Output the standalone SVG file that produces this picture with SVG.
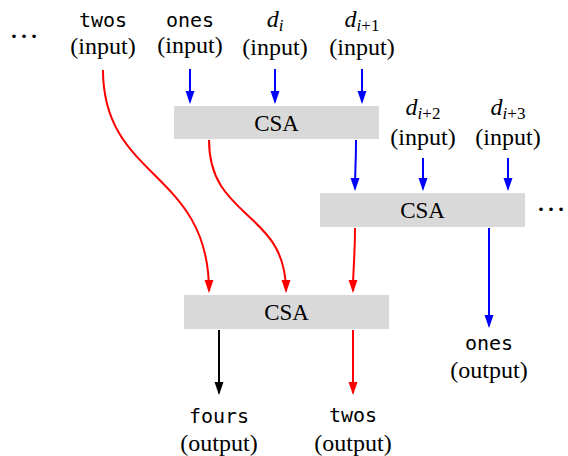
<svg xmlns="http://www.w3.org/2000/svg" width="568" height="456" viewBox="0 0 568 456">
<style>
.box{fill:#d9d9d9;stroke:none}
.lbl{font-family:"Liberation Serif","Times New Roman",serif;font-size:24px;fill:#000;text-anchor:middle}
.csa{font-size:23px}
.mono{font-family:"DejaVu Sans Mono","Liberation Mono",monospace;font-size:20px;fill:#000;text-anchor:middle}
.it{font-style:italic}
.sub{font-size:17px}
.b{stroke:#0000ff;stroke-width:2;fill:none}
.r{stroke:#ff0000;stroke-width:2;fill:none}
.k{stroke:#000;stroke-width:2;fill:none}
.dots{font-family:"Liberation Serif","Times New Roman",serif;font-size:30px;fill:#000}
</style>
<defs>
<marker id="ab" markerUnits="userSpaceOnUse" markerWidth="13" markerHeight="10" refX="11" refY="4.5" orient="auto"><path d="M0,0 L13,4.5 L0,9 z" fill="#0000ff"/></marker>
<marker id="ar" markerUnits="userSpaceOnUse" markerWidth="13" markerHeight="10" refX="11" refY="4.5" orient="auto"><path d="M0,0 L13,4.5 L0,9 z" fill="#ff0000"/></marker>
<marker id="ak" markerUnits="userSpaceOnUse" markerWidth="13" markerHeight="10" refX="11" refY="4.5" orient="auto"><path d="M0,0 L13,4.5 L0,9 z" fill="#000"/></marker>
</defs>
<g id="connectors">
<path class="b" marker-end="url(#ab)" d="M190,69 L190,102"/>
<path class="b" marker-end="url(#ab)" d="M275,69 L275,102"/>
<path class="b" marker-end="url(#ab)" d="M362,69 L362,102"/>
<path class="b" marker-end="url(#ab)" d="M423,158 L423,189"/>
<path class="b" marker-end="url(#ab)" d="M508,158 L508,189"/>
<path class="b" marker-end="url(#ab)" d="M356,140 C356,165 355,170 355,189"/>
<path class="b" marker-end="url(#ab)" d="M489,228 L489,326"/>
<path class="r" marker-end="url(#ar)" d="M103,70 C103,180 209,170 209,291"/>
<path class="r" marker-end="url(#ar)" d="M209,140 C209,220 286,210 286,291"/>
<path class="r" marker-end="url(#ar)" d="M355,228 C355,260 353,265 353,291"/>
<path class="r" marker-end="url(#ar)" d="M353,330 L353,393"/>
<path class="k" marker-end="url(#ak)" d="M219,330 L219,393"/>
</g>
<g id="csa1"><rect class="box" x="174" y="106" width="205" height="33"/><text class="lbl csa" x="276.5" y="131">CSA</text></g>
<g id="csa2"><rect class="box" x="320" y="193" width="205" height="34"/><text class="lbl csa" x="422.5" y="218">CSA</text></g>
<g id="csa3"><rect class="box" x="184" y="295" width="205" height="34"/><text class="lbl csa" x="286.5" y="320">CSA</text></g>
<g id="in-twos"><text class="mono" x="103" y="27">twos</text><text class="lbl" x="103" y="54">(input)</text></g>
<g id="in-ones"><text class="mono" x="190" y="27">ones</text><text class="lbl" x="190" y="53">(input)</text></g>
<g id="in-di"><text class="lbl" x="275" y="27"><tspan class="it">d</tspan><tspan class="sub it" dy="4">i</tspan></text><text class="lbl" x="275" y="55">(input)</text></g>
<g id="in-di1"><text class="lbl" x="362" y="27"><tspan class="it">d</tspan><tspan class="sub" dy="4"><tspan class="it">i</tspan>+1</tspan></text><text class="lbl" x="362" y="55">(input)</text></g>
<g id="in-di2"><text class="lbl" x="423" y="115"><tspan class="it">d</tspan><tspan class="sub" dy="4"><tspan class="it">i</tspan>+2</tspan></text><text class="lbl" x="423" y="145">(input)</text></g>
<g id="in-di3"><text class="lbl" x="508" y="115"><tspan class="it">d</tspan><tspan class="sub" dy="4"><tspan class="it">i</tspan>+3</tspan></text><text class="lbl" x="508" y="145">(input)</text></g>
<g id="out-ones"><text class="mono" x="489" y="350">ones</text><text class="lbl" x="489" y="378">(output)</text></g>
<g id="out-fours"><text class="mono" x="219" y="423">fours</text><text class="lbl" x="219" y="451">(output)</text></g>
<g id="out-twos"><text class="mono" x="353" y="422">twos</text><text class="lbl" x="353" y="451">(output)</text></g>
<g id="dots-left"><text class="dots" x="9" y="38">…</text></g>
<g id="dots-right"><text class="dots" x="536" y="211">…</text></g>
</svg>
